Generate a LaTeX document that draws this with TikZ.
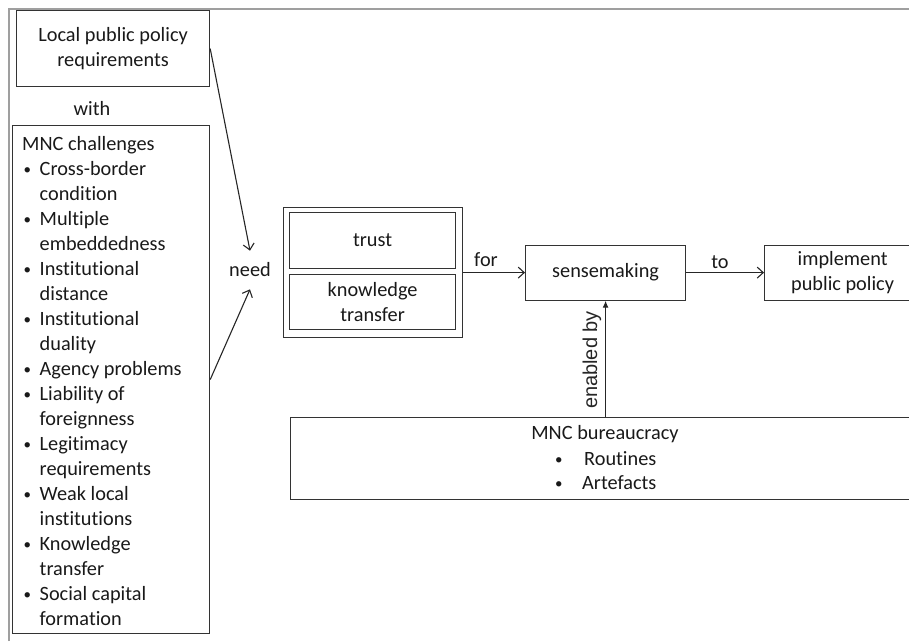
\documentclass[tikz,border=0pt]{standalone}
\usepackage{fontspec}
\setmainfont{Carlito}[Ligatures=NoCommon]
\newfontfamily\arialf{Liberation Sans}
\usetikzlibrary{arrows.meta}
\newcommand{\dotb}{\raisebox{0.8pt}{\fontsize{15}{15}\selectfont\textbullet}}
\newcommand{\bul}{\makebox[17.5pt][l]{\hspace{1.5pt}\dotb}}
\newcommand{\ind}{\hspace*{17.5pt}}
\begin{document}
\begin{tikzpicture}[x=1pt,y=-1pt,
  box/.style={draw=black!80, line width=1.2pt, rectangle, inner sep=0pt, anchor=north west},
  txt/.style={font=\fontsize{20.3}{25}\selectfont, inner sep=0pt, text=black!90},
  arr/.style={draw=black!85, line width=1.1pt, -{Straight Barb[length=6pt,width=11pt]}},
  farr/.style={draw=black!85, line width=1.1pt, -{Latex[length=7pt,width=6pt]}}]
\useasboundingbox (0,0) rectangle (909,641);
\draw[gray!75, line width=1.5pt] (9,641) -- (9,9) -- (909,9);

\node[box, minimum width=193pt, minimum height=76pt, txt, anchor=north west, align=center] (local) at (16,10) {Local public policy\\requirements};
\node[txt, anchor=base] (with) at (92,115) {with};

\node[box, minimum width=197pt, minimum height=508pt] (mnc) at (12,125) {};
\foreach \t [count=\i from 0] in {{MNC challenges},{\bul Cross-border},{\ind condition},{\bul Multiple},{\ind embeddedness},{\bul Institutional},{\ind distance},{\bul Institutional},{\ind duality},{\bul Agency problems},{\bul Liability of},{\ind foreignness},{\bul Legitimacy},{\ind requirements},{\bul Weak local},{\ind institutions},{\bul Knowledge},{\ind transfer},{\bul Social capital},{\ind formation}}
  \node[txt, anchor=base west] (m\i) at (22,{150+25*\i}) {\t};

\node[txt, inner sep=12pt] (need) at (250,270) {need};

\node[box, minimum width=179pt, minimum height=130pt] (pair) at (283,207) {};
\node[box, minimum width=166pt, minimum height=56pt, txt, anchor=north west, align=center] (trust) at (289,212) {trust};
\node[box, minimum width=166pt, minimum height=55pt, txt, anchor=north west, align=center] (know) at (289,274) {knowledge\\transfer};

\node[box, minimum width=160pt, minimum height=55pt, txt, anchor=north west, align=center] (sense) at (525,244.5) {sensemaking};
\node[box, minimum width=156pt, minimum height=55pt, txt, anchor=north west, align=center] (impl) at (764,244.5) {implement\\public policy};

\node[box, minimum width=630pt, minimum height=82pt] (bur) at (290,417) {};
\node[txt, anchor=base] (burt) at (605,439) {MNC bureaucracy};
\node[txt, anchor=base west] (r1) at (555,465) {\makebox[29pt][l]{\dotb}Routines};
\node[txt, anchor=base west] (r2) at (555,489) {\makebox[27pt][l]{\dotb}Artefacts};

\draw[arr] (local.east) -- (need.north);
\draw[arr] (mnc.east) -- (need.south);
\draw[arr] (pair.east) -- (sense.west);
\node[txt, anchor=base] (forl) at (486,266) {for};
\draw[arr] (sense.east) -- (impl.west);
\node[txt, anchor=base] (tol) at (720,268) {to};
\draw[farr] (bur.north) -- (sense.south);
\node[rotate=90, font=\arialf\fontsize{20}{24}\selectfont, inner sep=0pt, text=black!85] (enl) at (592,360) {enabled by};
\end{tikzpicture}
\end{document}
